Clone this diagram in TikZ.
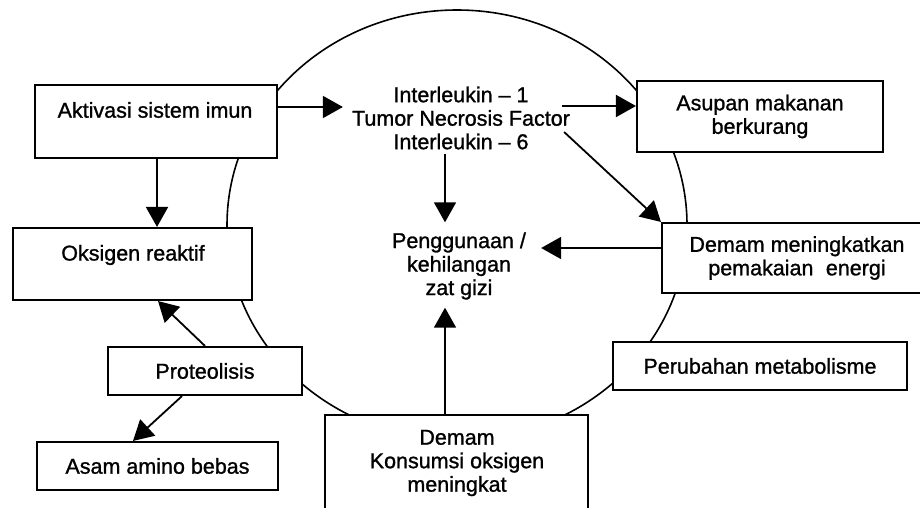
\documentclass[tikz,border=0pt]{standalone}
\usepackage{fontspec}
\setmainfont[FakeBold=1.1]{Liberation Sans}
\usetikzlibrary{arrows.meta,calc}
\begin{document}
\begin{tikzpicture}[x=1pt,y=-1pt,
  every node/.style={font=\fontsize{21.5}{23.5}\selectfont},
  box/.style={draw,line width=2.1pt,fill=white,inner sep=0pt,align=center},
  txt/.style={inner sep=0pt,align=center},
  arr/.style={line width=1.8pt,-{Triangle[length=20pt,width=22pt]}},
  ring/.style={line width=1.6pt}]
\useasboundingbox (0,0) rectangle (920,508);
\clip (0,0) rectangle (920,508);
\fill[white] (0,0) rectangle (920,508);
% big ellipse
\draw[ring] (457,225) ellipse [x radius=230pt, y radius=215pt];
% boxes
\node[box,minimum width=242pt,minimum height=73pt] (akt) at (156,121.5) {};
\node[txt] (aktT) at (155,110) {Aktivasi sistem imun};
\node[box,minimum width=239pt,minimum height=72pt] (oks) at (132.5,264) {};
\node[txt] (oksT) at (133,255) {Oksigen reaktif};
\node[box,minimum width=194pt,minimum height=48pt] (pro) at (205,371) {Proteolisis};
\node[box,minimum width=241pt,minimum height=48pt] (asa) at (157.5,466) {Asam amino bebas};
\node[box,minimum width=263pt,minimum height=115pt] (kon) at (456.5,472.5) {};
\node[txt] (konT) at (457,463) {Demam\\Konsumsi oksigen\\meningkat};
\node[box,minimum width=294pt,minimum height=48pt] (per) at (760,366) {Perubahan metabolisme};
\node[box,minimum width=270pt,minimum height=70pt] (dem) at (797,258) {Demam meningkatkan\\pemakaian\hspace{0.3em} energi};
\node[box,minimum width=246pt,minimum height=71pt] (asu) at (760,116.5) {Asupan makanan\\berkurang};
% centre texts
\node[txt] (cyt) at (461,118) {Interleukin \textendash{} 1\\Tumor Necrosis Factor\\Interleukin \textendash{} 6};
\node[txt] (pen) at (459,266) {Penggunaan /\\kehilangan\\zat gizi};
% arrows
\draw[arr] (akt.east |- 0,107) -- ($(cyt.west |- 0,107)+(-9,0)$);
\draw[arr] (akt.south -| 157,0) -- (oks.north -| 157,0);
\draw[arr] ($(cyt.east |- 0,106)+(-8,0)$) -- (asu.west |- 0,106);
\draw[arr] ($(cyt.east)+(-6,14)$) -- (dem.north west);
\draw[arr] ($(cyt.south -| 445,0)+(0,4)$) -- ($(pen.north -| 445,0)+(0,-10)$);
\draw[arr] (dem.west |- 0,248) -- ($(pen.east |- 0,248)+(15,0)$);
\draw[arr] (kon.north -| 445,0) -- ($(pen.south -| 445,0)+(0,8)$);
\draw[arr] (pro.north) -- (oks.south -| 158,0);
\draw[arr] (pro.south -| 182,0) -- (asa.north -| 133,0);
\end{tikzpicture}
\end{document}
